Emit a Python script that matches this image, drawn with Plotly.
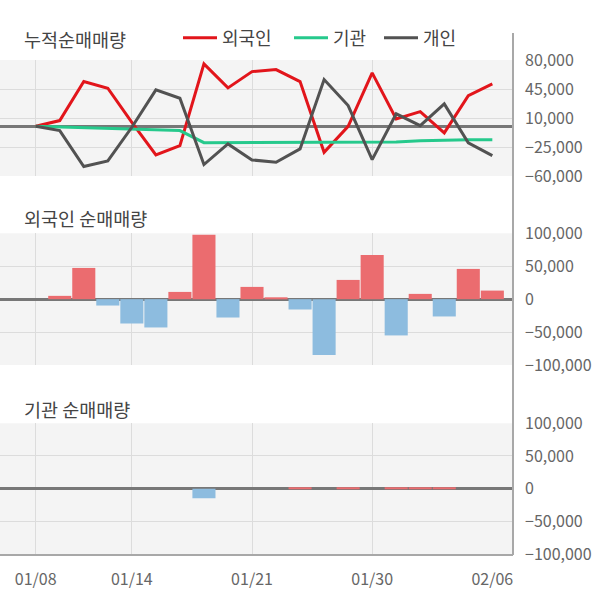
import plotly.graph_objects as go

DATES = ["01/08", "01/09", "01/10", "01/13", "01/14", "01/15", "01/16", "01/17", "01/20", "01/21",
         "01/22", "01/23", "01/28", "01/29", "01/30", "01/31", "02/03", "02/04", "02/05", "02/06"]
LABEL_IDX = [0, 4, 9, 14, 19]
GRID_IDX = [0, 4, 9, 14]

CUM_FOREIGN = [0, 6900, 54000, 45900, 4800, -34600, -23300, 75300, 46300, 66000,
               68400, 53900, -31400, 0, 64400, 8900, 17700, -8000, 37000, 51200]
CUM_INST = [0, -800, -1500, -2100, -3200, -4300, -5200, -19800, -19800, -19800,
            -19800, -19800, -19800, -19700, -19600, -19000, -17500, -16600, -16400, -16300]
CUM_INDIV = [0, -5200, -48600, -41800, -1200, 43900, 33800, -46200, -21300, -40600,
             -43400, -27300, 56400, 25000, -40200, 15000, 800, 27000, -20000, -35400]

DAILY_FOREIGN = [0, 5000, 47400, -9700, -37000, -43000, 11000, 97900, -27900, 18600,
                 2000, -15700, -84800, 29200, 67100, -55100, 8000, -26300, 45900, 13000]
DAILY_INST = [0, 0, 0, 0, 0, 0, 0, -14500, 0, 0,
              0, 1500, 0, 1500, 0, 1600, 1600, 1500, 0, 0]

TOP_TICKS = [80000, 45000, 10000, -25000, -60000]
BAR_TICKS = [100000, 50000, 0, -50000, -100000]

TITLES = ["누적순매매량", "외국인 순매매량", "기관 순매매량"]
SERIES_NAMES = ["외국인", "기관", "개인"]

W, H = 600, 604
FONT = "Noto Sans CJK KR"
RED, GREEN, GRAY = "#e2151b", "#26c98c", "#525252"
BAR_POS, BAR_NEG = "#eb6c6f", "#8dbcdf"
BG = "#f4f4f4"
GRID = "#dcdcdc"
TXT = "#666666"

def py(px):
    return 1 - px / H

XDOM = [0, 513 / W]
XR = [-1.486, 19.86]
idx = list(range(len(DATES)))
LEG_X = [184, 295, 385]

fig = go.Figure()
for k, (name, vals, col) in enumerate(zip(SERIES_NAMES, [CUM_FOREIGN, CUM_INST, CUM_INDIV], [RED, GREEN, GRAY])):
    fig.add_trace(go.Scatter(x=idx, y=vals, mode="lines", name=name,
                             legend="legend" if k == 0 else "legend%d" % (k + 1),
                             line=dict(color=col, width=3), xaxis="x", yaxis="y"))

fig.add_trace(go.Bar(x=idx, y=DAILY_FOREIGN, showlegend=False, xaxis="x2", yaxis="y2",
                     marker=dict(color=[BAR_POS if v >= 0 else BAR_NEG for v in DAILY_FOREIGN], line_width=0)))
fig.add_trace(go.Bar(x=idx, y=DAILY_INST, showlegend=False, xaxis="x3", yaxis="y3",
                     marker=dict(color=[BAR_POS if v >= 0 else BAR_NEG for v in DAILY_INST], line_width=0)))

ydoms = [[py(176), py(60)], [py(365), py(233.3)], [py(554), py(423.3)]]
yranges = [[-60000, 80000], [-100000, 100000], [-100000, 100000]]
yticks = [TOP_TICKS, BAR_TICKS, BAR_TICKS]

layout = dict(
    width=W, height=H, margin=dict(l=0, r=0, t=0, b=0, autoexpand=False),
    paper_bgcolor="white", plot_bgcolor=BG, bargap=0.04,
    font=dict(family=FONT, color=TXT, size=16),
    showlegend=True,
)
for k in range(3):
    key = "legend" if k == 0 else "legend%d" % (k + 1)
    layout[key] = dict(orientation="h", x=(LEG_X[k] - 6) / W, y=py(38), xanchor="left", yanchor="middle",
                       font=dict(size=18, color="#444444"), bgcolor="rgba(0,0,0,0)", itemwidth=34)
for i in range(3):
    s = "" if i == 0 else str(i + 1)
    layout["xaxis" + s] = dict(domain=XDOM, range=XR, anchor="y" + s, tickvals=GRID_IDX, automargin=False,
                               showticklabels=False, showgrid=True, gridcolor=GRID, gridwidth=1,
                               zeroline=False, ticks="", showline=(i == 2), linecolor="#a8a8a8", linewidth=2)
    layout["yaxis" + s] = dict(domain=ydoms[i], range=yranges[i], anchor="x" + s, side="right",
                               tickvals=yticks[i], tickformat=",d", showgrid=True, gridcolor=GRID,
                               gridwidth=1, zeroline=True, zerolinecolor="#777777", zerolinewidth=2.5,
                               automargin=False,
                               ticks="", ticklabelstandoff=11, tickfont=dict(size=16, color=TXT))
layout["xaxis4"] = dict(overlaying="x3", anchor="y3", range=XR, tickvals=LABEL_IDX, automargin=False,
                        ticktext=[DATES[i] for i in LABEL_IDX], showgrid=False, zeroline=False,
                        ticks="", ticklabelstandoff=14, tickfont=dict(size=16, color=TXT), side="bottom")
fig.update_layout(**layout)
fig.add_trace(go.Scatter(x=[XR[0]], y=[None], xaxis="x4", yaxis="y3", showlegend=False, hoverinfo="skip"))

for t, ypx in zip(TITLES, [39, 218, 409]):
    fig.add_annotation(text=t, xref="paper", yref="paper", x=22 / W, y=py(ypx), xanchor="left",
                       yanchor="middle", showarrow=False, font=dict(size=18.5, color="#444444"))

fig.add_shape(type="line", xref="paper", yref="paper", x0=XDOM[1], x1=XDOM[1], y0=py(555), y1=py(33),
              line=dict(color="#a8a8a8", width=2))

fig.write_html("out.html")
